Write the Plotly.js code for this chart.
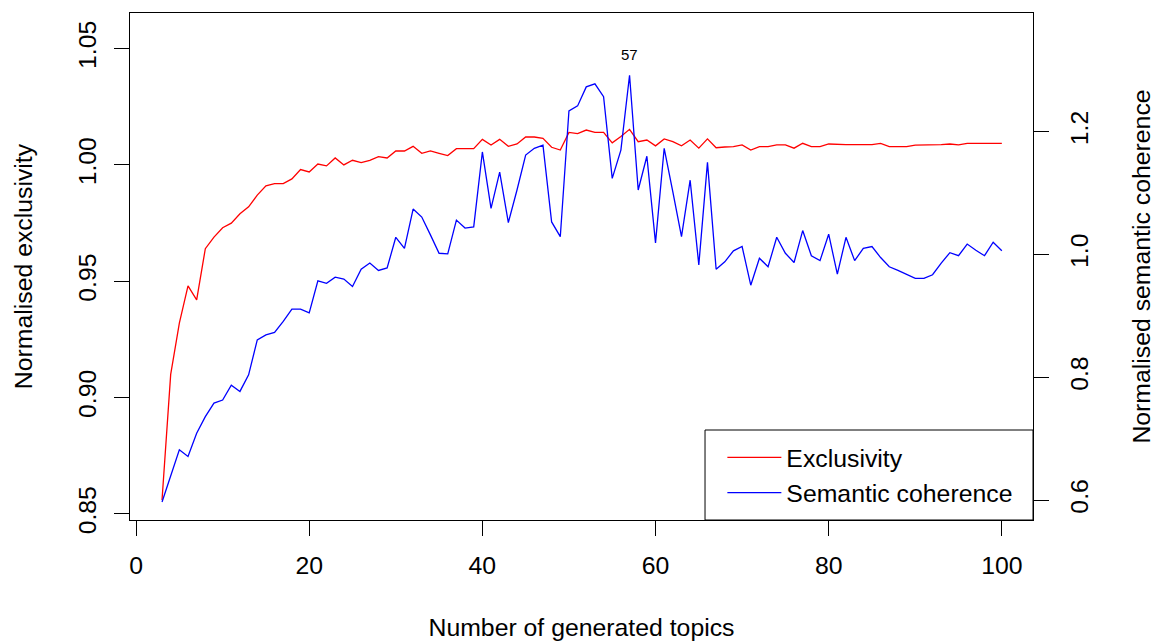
<!DOCTYPE html>
<html>
<head>
<meta charset="utf-8">
<script src="https://cdn.plot.ly/plotly-3.0.1.min.js"></script>
<style>html,body{margin:0;padding:0;background:#fff;}#chart{width:1155px;height:641px;}</style>
</head>
<body>
<div id="chart"></div>
<script>
var topics = [];
for (var k = 3; k <= 100; k++) topics.push(k);

var exclusivity = [
  0.856, 0.910, 0.932, 0.948, 0.942, 0.964, 0.969, 0.973, 0.975, 0.979,
  0.982, 0.987, 0.991, 0.992, 0.992, 0.994, 0.998, 0.997, 1.0004, 0.9996,
  1.003, 1.000, 1.002, 1.001, 1.002, 1.0036, 1.003, 1.006, 1.006, 1.008,
  1.005, 1.006, 1.005, 1.004, 1.007, 1.007, 1.007, 1.011, 1.0086, 1.011,
  1.008, 1.009, 1.012, 1.012, 1.0114, 1.0076, 1.0064, 1.014, 1.0135, 1.015,
  1.014, 1.014, 1.0095, 1.0122, 1.0153, 1.010, 1.0107, 1.0082, 1.0112, 1.010,
  1.0082, 1.0107, 1.0072, 1.0112, 1.0074, 1.0077, 1.0079, 1.0086, 1.0064, 1.0079,
  1.0079, 1.0086, 1.0086, 1.0072, 1.0093, 1.0079, 1.0079, 1.009, 1.0087, 1.0087,
  1.0087, 1.0087, 1.0087, 1.0093, 1.0079, 1.0079, 1.0079, 1.0085, 1.0085, 1.0086,
  1.0087, 1.009, 1.0086, 1.0093, 1.0093, 1.0093, 1.0093, 1.0093
];

var coherence = [
  0.597, 0.640, 0.682, 0.671, 0.709, 0.736, 0.758, 0.763, 0.787, 0.777,
  0.804, 0.861, 0.869, 0.873, 0.891, 0.911, 0.911, 0.905, 0.957, 0.953,
  0.963, 0.960, 0.948, 0.976, 0.986, 0.974, 0.978, 1.028, 1.010, 1.074,
  1.061, 1.032, 1.002, 1.001, 1.056, 1.043, 1.045, 1.167, 1.075, 1.134,
  1.052, 1.105, 1.162, 1.173, 1.178, 1.053, 1.029, 1.234, 1.242, 1.273,
  1.278, 1.257, 1.124, 1.170, 1.292, 1.105, 1.160, 1.019, 1.173, 1.102,
  1.029, 1.121, 0.983, 1.150, 0.976, 0.988, 1.006, 1.013, 0.950, 0.994,
  0.980, 1.028, 1.002, 0.987, 1.039, 0.998, 0.990, 1.033, 0.968, 1.028,
  0.990, 1.010, 1.013, 0.995, 0.980, 0.974, 0.968, 0.961, 0.961, 0.967,
  0.986, 1.003, 0.998, 1.017, 1.007, 0.998, 1.020, 1.006
];

var xTicks = [0, 20, 40, 60, 80, 100];
var leftTicks = [0.85, 0.90, 0.95, 1.00, 1.05];
var leftTickLabels = ["0.85", "0.90", "0.95", "1.00", "1.05"];
var rightTicks = [0.6, 0.8, 1.0, 1.2];
var rightTickLabels = ["0.6", "0.8", "1.0", "1.2"];
var peakTopic = 57;

var FONT = "Liberation Sans, Arial, sans-serif";
var FS = 24.8;
var peakIdx = topics.indexOf(peakTopic);

var traces = [
  {x: topics, y: exclusivity, type: "scatter", mode: "lines", name: "Exclusivity",
   line: {color: "#ff0000", width: 1.3}, yaxis: "y"},
  {x: topics, y: coherence, type: "scatter", mode: "lines", name: "Semantic coherence",
   line: {color: "#0000ff", width: 1.3}, yaxis: "y2"}
];

var layout = {
  width: 1155, height: 641,
  margin: {l: 130, r: 122, t: 13, b: 121},
  paper_bgcolor: "#fff", plot_bgcolor: "#fff",
  font: {family: FONT, size: FS, color: "#000"},
  showlegend: true,
  legend: {x: 0.656, y: 0.168, xanchor: "left", yanchor: "top",
           bgcolor: "rgba(0,0,0,0)", borderwidth: 0, itemwidth: 54,
           font: {family: FONT, size: FS, color: "#000"}},
  xaxis: {range: [-0.7, 103.6], tickvals: xTicks, ticktext: xTicks.map(String),
          ticks: "outside", ticklen: 15, tickcolor: "#000", tickwidth: 1,
          showline: true, mirror: true, linecolor: "#000", linewidth: 1,
          showgrid: false, zeroline: false, ticklabelstandoff: 8,
          tickfont: {family: FONT, size: FS, color: "#000"},
          title: {text: "Number of generated topics", standoff: 45,
                  font: {family: FONT, size: FS, color: "#000"}}},
  yaxis: {range: [0.8474, 1.0653], tickvals: leftTicks, ticktext: leftTickLabels,
          ticks: "outside", ticklen: 15, tickcolor: "#000", tickwidth: 1,
          tickangle: -90, ticklabelstandoff: 8,
          showline: true, mirror: true, linecolor: "#000", linewidth: 1,
          showgrid: false, zeroline: false,
          tickfont: {family: FONT, size: FS, color: "#000"},
          title: {text: "Normalised exclusivity", standoff: 34,
                  font: {family: FONT, size: FS, color: "#000"}}},
  yaxis2: {range: [0.5676, 1.3933], tickvals: rightTicks, ticktext: rightTickLabels,
           overlaying: "y", side: "right",
           ticks: "outside", ticklen: 15, tickcolor: "#000", tickwidth: 1,
           tickangle: -90, ticklabelstandoff: 9,
           showline: false, showgrid: false, zeroline: false,
           tickfont: {family: FONT, size: FS, color: "#000"},
           title: {text: "Normalised semantic coherence", standoff: 43,
                   font: {family: FONT, size: FS, color: "#000"}}},
  shapes: [
    {type: "rect", xref: "paper", yref: "paper", x0: 0.6368, x1: 1, y0: 0, y1: 0.1775,
     line: {color: "#000", width: 1}, fillcolor: "#fff", layer: "below"}
  ],
  annotations: [
    {x: topics[peakIdx], y: coherence[peakIdx], xref: "x", yref: "y2",
     text: String(peakTopic), showarrow: false, yshift: 21,
     font: {family: FONT, size: 15, color: "#000"}}
  ]
};

Plotly.newPlot("chart", traces, layout, {displayModeBar: false, staticPlot: true});
</script>
</body>
</html>
